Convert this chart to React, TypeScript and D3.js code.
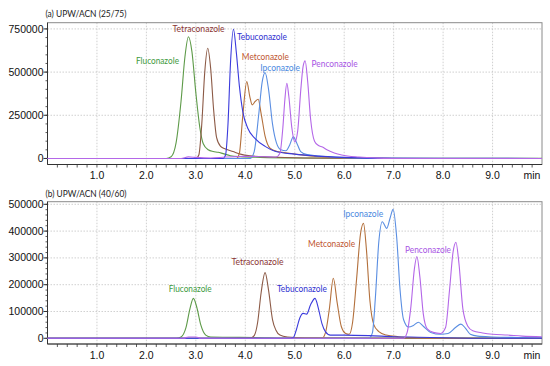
import React from "react";
import * as d3 from "d3";

type Pt = [number, number];

// ---------- Panel (a) UPW/ACN (25/75) ----------
const aFluconazole: Pt[] = [[0,0],[2.4,0],[2.5,10000],[2.6,90000],[2.7,330000],[2.78,590000],[2.85,705000],[2.92,620000],[3.0,380000],[3.08,180000],[3.15,85000],[3.25,50000],[3.35,40000],[3.45,36000],[3.55,28000],[3.7,16000],[3.9,10000],[4.3,6000],[5,3000],[7,1000],[10,1000]];
const aTetraconazole: Pt[] = [[0,0],[3.0,0],[3.06,20000],[3.12,200000],[3.18,500000],[3.24,638000],[3.3,520000],[3.36,280000],[3.42,120000],[3.5,70000],[3.6,55000],[3.75,40000],[3.9,25000],[4.1,15000],[4.5,8000],[5.2,3000],[7,0],[10,0]];
const aTebuconazole: Pt[] = [[0,0],[3.55,0],[3.6,20000],[3.65,200000],[3.7,550000],[3.76,748000],[3.82,610000],[3.88,420000],[3.95,270000],[4.05,175000],[4.2,115000],[4.4,70000],[4.6,42000],[5.0,25000],[5.4,15000],[6.0,6000],[6.6,2000],[10,0]];
const aMetconazole: Pt[] = [[0,0],[3.82,0],[3.88,30000],[3.95,250000],[4.03,445000],[4.09,360000],[4.14,310000],[4.2,330000],[4.26,343000],[4.32,260000],[4.4,130000],[4.5,60000],[4.65,40000],[4.85,32000],[5.1,22000],[5.5,10000],[6.0,4000],[7,0],[10,0]];
const aIpconazole: Pt[] = [[0,0],[4.1,0],[4.18,40000],[4.27,250000],[4.34,440000],[4.4,497000],[4.47,400000],[4.55,200000],[4.63,90000],[4.72,50000],[4.82,45000],[4.9,80000],[4.97,125000],[5.04,90000],[5.12,40000],[5.25,22000],[5.5,14000],[6.0,5000],[7,0],[10,0]];
const aPenconazole: Pt[] = [[0,0],[2.7,0],[2.85,9000],[3.0,6000],[3.3,3000],[3.6,8000],[4.0,12000],[4.4,10000],[4.62,8000],[4.7,30000],[4.76,180000],[4.8,340000],[4.84,435000],[4.88,360000],[4.94,180000],[5.0,95000],[5.06,160000],[5.12,390000],[5.17,535000],[5.21,565000],[5.26,450000],[5.32,230000],[5.4,100000],[5.48,75000],[5.56,66000],[5.65,50000],[5.8,32000],[5.95,20000],[6.3,8000],[6.7,2000],[7,0],[10,0]];

// ---------- Panel (b) UPW/ACN (40/60) ----------
const bFluconazole: Pt[] = [[0,0],[2.6,0],[2.7,5000],[2.8,40000],[2.88,110000],[2.95,149000],[3.02,115000],[3.1,50000],[3.2,12000],[3.3,5000],[4.2,3000],[5,1000],[10,1000]];
const bTetraconazole: Pt[] = [[0,0],[4.1,0],[4.18,10000],[4.25,60000],[4.32,170000],[4.4,245000],[4.47,180000],[4.55,70000],[4.62,30000],[4.7,12000],[4.85,5000],[5.2,2000],[7,0],[10,0]];
const bTebuconazole: Pt[] = [[0,0],[4.9,0],[4.97,3000],[5.03,30000],[5.1,75000],[5.17,93000],[5.24,90000],[5.32,125000],[5.41,149000],[5.48,110000],[5.55,55000],[5.62,25000],[5.72,12000],[6.0,12000],[6.5,10000],[7.0,6000],[7.5,4000],[8,2000],[9,0],[10,0]];
const bMetconazole: Pt[] = [[0,0],[5.55,0],[5.62,20000],[5.7,110000],[5.78,224000],[5.86,130000],[5.94,45000],[6.03,18000],[6.1,15000],[6.17,60000],[6.25,220000],[6.33,390000],[6.39,429000],[6.45,330000],[6.52,140000],[6.6,50000],[6.7,25000],[6.85,12000],[7.1,6000],[7.5,2000],[8,0],[10,0]];
const bIpconazole: Pt[] = [[0,0],[6.5,0],[6.57,20000],[6.63,150000],[6.7,360000],[6.77,435000],[6.86,410000],[6.93,450000],[6.99,481000],[7.06,380000],[7.13,180000],[7.2,70000],[7.3,42000],[7.4,48000],[7.5,60000],[7.6,45000],[7.75,22000],[7.95,15000],[8.1,18000],[8.25,40000],[8.36,53000],[8.45,38000],[8.55,15000],[8.7,8000],[9,5000],[9.5,3000],[10,2000]];
const bPenconazole: Pt[] = [[0,0],[2.75,0],[2.85,5000],[3.0,5000],[3.1,0],[7.2,0],[7.27,20000],[7.35,120000],[7.42,260000],[7.47,305000],[7.53,230000],[7.6,90000],[7.68,35000],[7.8,22000],[7.95,18000],[8.05,40000],[8.13,180000],[8.2,320000],[8.26,358000],[8.32,280000],[8.4,110000],[8.5,45000],[8.6,28000],[8.8,20000],[9.0,15000],[9.3,12000],[9.6,8000],[10,6000]];

const compounds = ["Fluconazole","Tetraconazole","Tebuconazole","Metconazole","Ipconazole","Penconazole"];
const aSeries = [aFluconazole,aTetraconazole,aTebuconazole,aMetconazole,aIpconazole,aPenconazole];
const bSeries = [bFluconazole,bTetraconazole,bTebuconazole,bMetconazole,bIpconazole,bPenconazole];
const aYTicks = [0,250000,500000,750000];
const bYTicks = [0,100000,200000,300000,400000,500000];
const xTicks = [1,2,3,4,5,6,7,8,9];
const titles = ["(a) UPW/ACN (25/75)","(b) UPW/ACN (40/60)"];

const lineColors = ["#5d9a48","#8c5a46","#3b3bdc","#b3703c","#5a8ee2","#b467e8"];
const labelColors = ["#3e9a3e","#8b3535","#3030d0","#c0552f","#4a88e0","#a855e4"];

// label anchor (time, value) per panel — left edge / baseline
const aLabelPos: Pt[] = [[1.79,547000],[2.53,735000],[3.83,683000],[3.93,572000],[4.30,507000],[5.34,532000]];
const bLabelPos: Pt[] = [[2.45,171000],[3.72,274600],[4.64,172700],[5.27,340600],[5.98,454400],[7.23,320100]];
const labelW = [43, 52, 50, 47, 40, 46];

const X0 = 47.5, X1 = 542;

function Panel({ series, yTicks, yDomain, yRange, minorStep, title, labelPos, titleY }: any) {
  const x = d3.scaleLinear().domain([0, 10]).range([X0, X1]);
  const y = d3.scaleLinear().domain(yDomain).range(yRange);
  const line = d3.line<Pt>().x(d => x(d[0])).y(d => y(d[1])).curve(d3.curveMonotoneX);
  const top = yRange[1], bottom = yRange[0];
  const minor = d3.range(0, yTicks[yTicks.length - 1] + 1, minorStep).filter((v: number) => y(v) >= top);
  const xMinor = d3.range(1, 50).map((i: number) => i * 0.2);
  const order = [0, 1, 3, 4, 2, 5];
  return (
    <g>
      <text x={45.5} y={titleY} fontFamily="Lato, 'Open Sans', sans-serif" fontSize={9.5} fill="#222" textLength={81} lengthAdjust="spacingAndGlyphs">{title}</text>
      {yTicks.filter((v: number) => v > 0).map((v: number) => (
        <line key={"gy" + v} x1={X0} x2={X1} y1={y(v)} y2={y(v)} stroke="#c4c4c4" strokeWidth={0.8} strokeDasharray="1.5,1.5" />
      ))}
      {xTicks.map((t: number) => (
        <line key={"gx" + t} x1={x(t)} x2={x(t)} y1={top} y2={bottom} stroke="#c4c4c4" strokeWidth={0.8} strokeDasharray="1.5,1.5" />
      ))}
      <rect x={X0} y={top} width={X1 - X0} height={bottom - top} fill="none" stroke="#8a8a8a" strokeWidth={1} />
      <line x1={X0} x2={X0} y1={top} y2={bottom} stroke="#333" strokeWidth={1} />
      <line x1={X0} x2={X1} y1={bottom} y2={bottom} stroke="#333" strokeWidth={1} />
      {minor.map((v: number) => (
        <line key={"my" + v} x1={X0 - 2} x2={X0} y1={y(v)} y2={y(v)} stroke="#333" strokeWidth={0.8} />
      ))}
      {yTicks.map((v: number) => (
        <g key={"ty" + v}>
          <line x1={X0 - 4} x2={X0} y1={y(v)} y2={y(v)} stroke="#333" strokeWidth={1} />
          <text x={43.5} y={y(v) + 3.6} textAnchor="end" fontFamily="'Liberation Sans', Arial, sans-serif" fontSize={10.5} fill="#111">{v}</text>
        </g>
      ))}
      {xMinor.map((t: number) => (
        <line key={"mx" + t} x1={x(t)} x2={x(t)} y1={bottom} y2={bottom + 3} stroke="#333" strokeWidth={0.8} />
      ))}
      {xTicks.map((t: number) => (
        <text key={"tx" + t} x={x(t)} y={bottom + 14.5} textAnchor="middle" fontFamily="'Liberation Sans', Arial, sans-serif" fontSize={10.5} fill="#111">{t.toFixed(1)}</text>
      ))}
      <text x={532} y={bottom + 14.5} textAnchor="middle" fontFamily="'Liberation Sans', Arial, sans-serif" fontSize={10.5} fill="#111">min</text>
      {order.map((i: number) => (
        <path key={"p" + i} d={line(series[i]) || ""} fill="none" stroke={lineColors[i]} strokeWidth={1.1} strokeLinejoin="round" />
      ))}
      {compounds.map((c: string, i: number) => (
        <text key={"l" + c} x={x(labelPos[i][0])} y={y(labelPos[i][1])} fontFamily="Lato, 'Open Sans', sans-serif" fontSize={9} fill={labelColors[i]} textLength={labelW[i]} lengthAdjust="spacingAndGlyphs">{c}</text>
      ))}
    </g>
  );
}

export default function App() {
  return (
    <svg width={550} height={366} style={{ position: "absolute", left: 0, top: 0, background: "#fff" }}>
      <rect width={550} height={366} fill="#fff" />
      <Panel series={aSeries} yTicks={aYTicks} yDomain={[-35000, 786000]} yRange={[164.5, 22.7]} minorStep={50000} title={titles[0]} labelPos={aLabelPos} titleY={16.5} />
      <Panel series={bSeries} yTicks={bYTicks} yDomain={[-21300, 509700]} yRange={[344, 201.7]} minorStep={20000} title={titles[1]} labelPos={bLabelPos} titleY={196.5} />
    </svg>
  );
}
